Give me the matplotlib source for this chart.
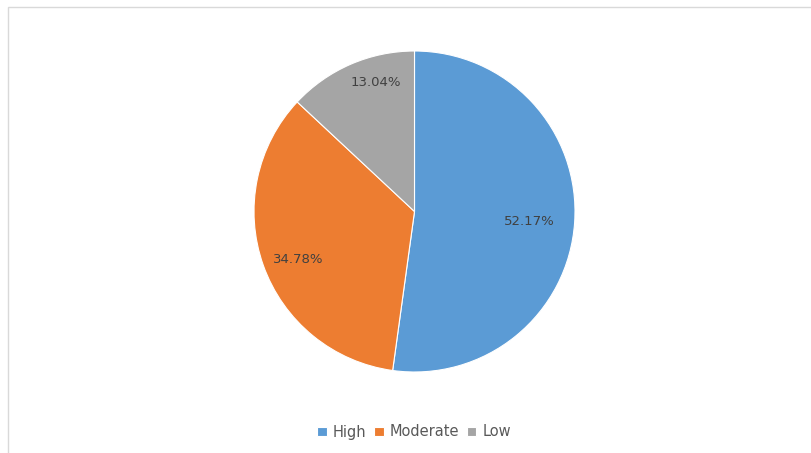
import matplotlib
matplotlib.use("Agg")
import matplotlib.pyplot as plt
from matplotlib.patches import Rectangle
import numpy as np

categories = ["High", "Moderate", "Low"]
values = [12, 8, 3]
colors = ["#5B9BD5", "#ED7D31", "#A5A5A5"]
label_dist = [0.72, 0.785, 0.84]
label_ang_offset = [-1.3, 3.0, -7.0]

W, H = 811, 453
fig = plt.figure(figsize=(W / 100, H / 100), dpi=100)
fig.patch.set_facecolor("white")

# chart border
fig.patches.append(Rectangle((8 / W, -0.01), 1.0, (H - 7) / H + 0.01, transform=fig.transFigure,
                             fill=False, edgecolor="#D9D9D9", linewidth=1.0))

cx, cy, r = 414.5, 211.5, 160.5
ax = fig.add_axes([(cx - r) / W, (H - cy - r) / H, 2 * r / W, 2 * r / H])
wedges, texts, autotexts = ax.pie(values, colors=colors, startangle=90, counterclock=False,
                                  autopct="%1.2f%%", pctdistance=0.75,
                                  wedgeprops=dict(edgecolor="white", linewidth=0.8),
                                  textprops=dict(color="#404040", fontsize=9.5))
for w, t, d, off in zip(wedges, autotexts, label_dist, label_ang_offset):
    ang = np.deg2rad((w.theta1 + w.theta2) / 2 + off)
    t.set_position((d * np.cos(ang), d * np.sin(ang)))
ax.set_xlim(-1, 1)
ax.set_ylim(-1, 1)
ax.set_aspect("equal")
ax.axis("off")

leg = fig.legend(wedges, categories, loc="center", bbox_to_anchor=(414 / W, 1 - 432 / H),
                 ncol=3, frameon=False, fontsize=10.5, handlelength=0.65, handleheight=0.65,
                 handletextpad=0.4, columnspacing=0.55)
for t in leg.get_texts():
    t.set_color("#595959")

fig.savefig("out.png", dpi=100)
